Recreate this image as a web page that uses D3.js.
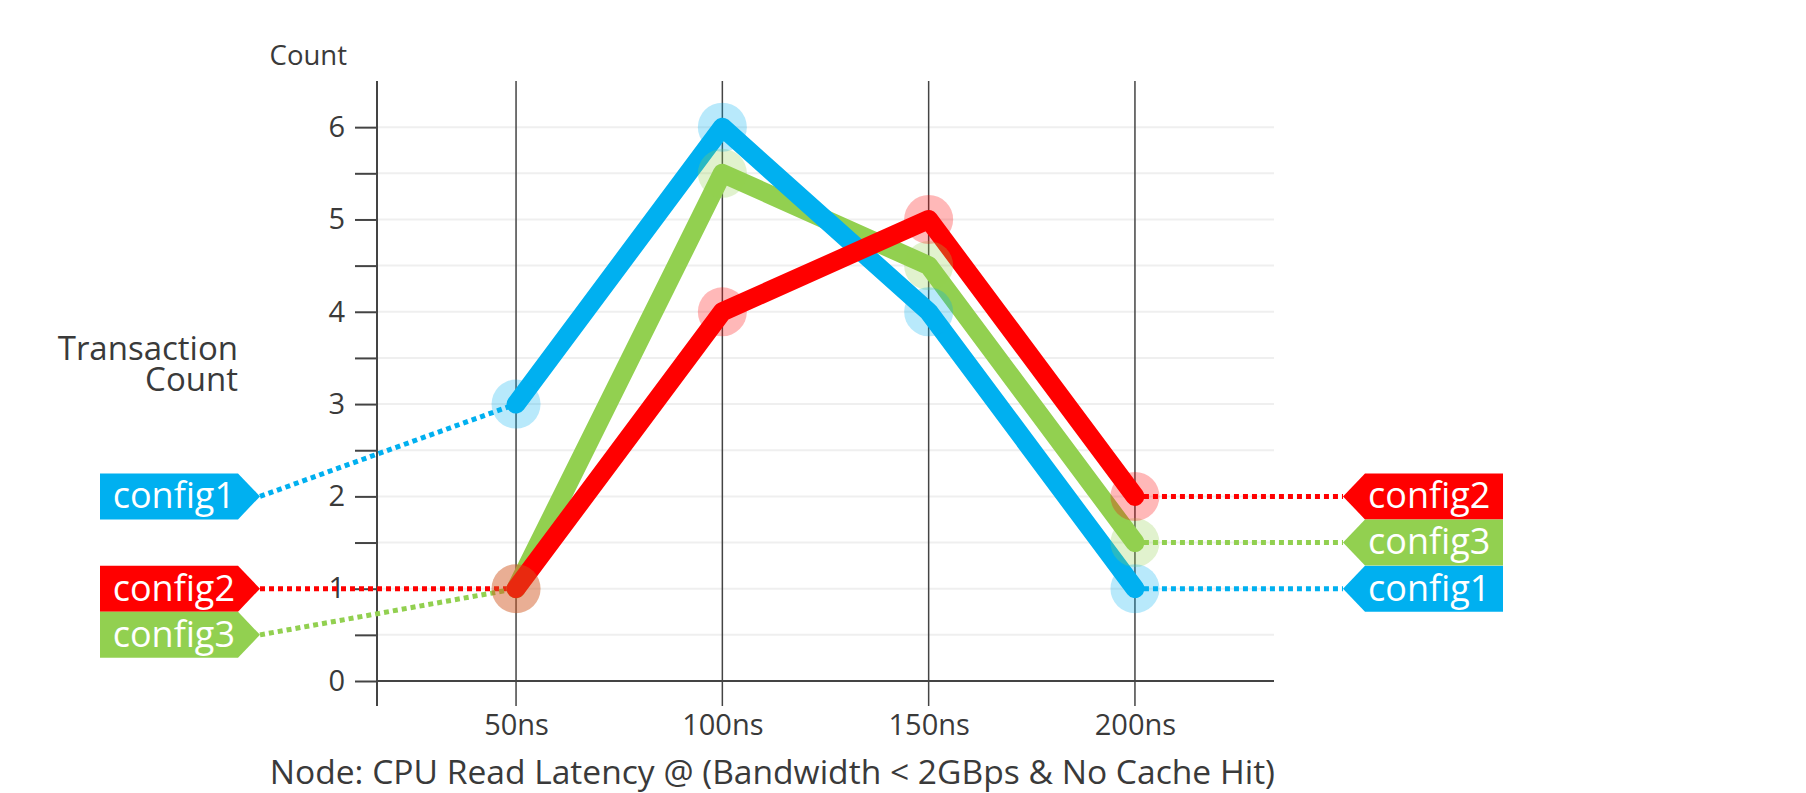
<!DOCTYPE html>
<html>
<head>
<meta charset="utf-8">
<script src="https://cdn.jsdelivr.net/npm/d3@7/dist/d3.min.js"></script>
<style>
  html, body { margin: 0; padding: 0; background: #fff; }
  svg { display: block; font-family: "Open Sans", "Noto Sans", sans-serif; }
</style>
</head>
<body>
<svg id="chart" width="1806" height="793"></svg>
<script>
// ---- data ----
const categories = ["50ns", "100ns", "150ns", "200ns"];
const seriesNames = ["config1", "config2", "config3"];
const config1 = [3, 6, 4, 1];
const config2 = [1, 4, 5, 2];
const config3 = [1, 5.5, 4.5, 1.5];
const seriesColors = ["#00B0F0", "#FF0000", "#92D050"];
const yTickValues = [0, 1, 2, 3, 4, 5, 6];
const yMinorTicks = [0, 0.5, 1, 1.5, 2, 2.5, 3, 3.5, 4, 4.5, 5, 5.5, 6];
const leftLabelValues = [2, 1, 0.5];   // label anchors (data units) on the left
const rightLabelValues = [1, 2, 1.5];  // label anchors (data units) on the right
const yAxisTitle = "Count";
const sideTitle = ["Transaction", "Count"];
const xAxisTitle = "Node: CPU Read Latency @ (Bandwidth < 2GBps & No Cache Hit)";

(function () {
const seriesValues = [config1, config2, config3];
const series = seriesNames.map((n, i) => ({ name: n, values: seriesValues[i], color: seriesColors[i],
  leftLabel: leftLabelValues[i], rightLabel: rightLabelValues[i] }));

// ---- layout ----
const svg = d3.select("#chart");
const mLeft = 377, mRight = 1274, mTop = 81, mBottom = 681;
const x = d3.scalePoint().domain(categories).range([mLeft, mRight]).padding(0.674);
const y = d3.scaleLinear().domain([0, 6.5]).range([mBottom, mTop]);
const textColor = "#3a3a3a";
const axisColor = "#444";

// gridlines
svg.append("g").selectAll("line").data(yMinorTicks.filter(d => d > 0)).join("line")
  .attr("x1", mLeft).attr("x2", mRight)
  .attr("y1", d => y(d)).attr("y2", d => y(d))
  .attr("stroke", "#efefef").attr("stroke-width", 2);

// vertical category lines
svg.append("g").selectAll("line").data(categories).join("line")
  .attr("x1", d => x(d)).attr("x2", d => x(d))
  .attr("y1", mTop).attr("y2", mBottom + 25)
  .attr("stroke", axisColor).attr("stroke-width", 1.5);

// y axis
const yAxis = d3.axisLeft(y).tickValues(yMinorTicks).tickSize(22).tickPadding(10)
  .tickFormat(d => yTickValues.includes(d) ? d3.format("d")(d) : "");
const gy = svg.append("g").attr("transform", `translate(${mLeft},0)`).call(yAxis);
gy.select(".domain").remove();
gy.selectAll(".tick line").attr("stroke", axisColor).attr("stroke-width", 2);
gy.selectAll(".tick text").attr("fill", textColor).style("font-size", "29px")
  .style("font-family", "'Open Sans', sans-serif");
svg.append("line").attr("x1", mLeft).attr("x2", mLeft).attr("y1", mTop).attr("y2", mBottom + 25)
  .attr("stroke", axisColor).attr("stroke-width", 2);

// x axis
const xAxis = d3.axisBottom(x).tickSize(25).tickPadding(8);
const gx = svg.append("g").attr("transform", `translate(0,${mBottom})`).call(xAxis);
gx.select(".domain").remove();
gx.selectAll(".tick line").remove();
gx.selectAll(".tick text").attr("fill", textColor).style("font-size", "29px")
  .style("font-family", "'Open Sans', sans-serif");
svg.append("line").attr("x1", mLeft).attr("x2", mRight).attr("y1", mBottom).attr("y2", mBottom)
  .attr("stroke", axisColor).attr("stroke-width", 2);

// titles
svg.append("text").attr("x", 347).attr("y", 65).attr("text-anchor", "end")
  .attr("fill", textColor).style("font-size", "27.5px").text(yAxisTitle);
svg.append("text").attr("text-anchor", "end").attr("fill", textColor).style("font-size", "33px")
  .selectAll("tspan").data(sideTitle).join("tspan")
  .attr("x", 238).attr("y", (d, i) => 360 + i * 31).text(d => d);
svg.append("text").attr("x", mRight + 1).attr("y", 784).attr("text-anchor", "end")
  .attr("fill", textColor).style("font-size", "33.6px").text(xAxisTitle);

// label geometry
const leftTip = 260, rightTip = 1343, arrow = 22, boxW = 138, boxH = 46;

// dotted connector lines
const conn = svg.append("g");
series.forEach(s => {
  conn.append("line")
    .attr("x1", leftTip).attr("y1", y(s.leftLabel))
    .attr("x2", x(categories[0])).attr("y2", y(s.values[0]))
    .attr("stroke", s.color).attr("stroke-width", 5).attr("stroke-dasharray", "5,4");
  conn.append("line")
    .attr("x1", x(categories[categories.length - 1])).attr("y1", y(s.values[s.values.length - 1]))
    .attr("x2", rightTip).attr("y2", y(s.rightLabel))
    .attr("stroke", s.color).attr("stroke-width", 5).attr("stroke-dasharray", "5,4");
});

// lines (draw order: config3, config1, config2)
const line = d3.line().x((d, i) => x(categories[i])).y(d => y(d));
const drawOrder = [2, 0, 1];
svg.append("g").selectAll("path").data(drawOrder.map(i => series[i])).join("path")
  .attr("d", d => line(d.values))
  .attr("fill", "none").attr("stroke", d => d.color).attr("stroke-width", 19)
  .attr("stroke-linejoin", "round").attr("stroke-linecap", "round");

// halos
drawOrder.forEach(i => {
  const s = series[i];
  svg.append("g").selectAll("circle").data(s.values).join("circle")
    .attr("cx", (d, j) => x(categories[j])).attr("cy", d => y(d)).attr("r", 24.5)
    .attr("fill", s.color).attr("fill-opacity", 0.28);
});

// labels
function leftShape(yc) {
  const x0 = leftTip - arrow - boxW;
  return `M${x0},${yc - boxH / 2}H${leftTip - arrow}L${leftTip},${yc}L${leftTip - arrow},${yc + boxH / 2}H${x0}Z`;
}
function rightShape(yc) {
  const x1 = rightTip + arrow + boxW;
  return `M${x1},${yc - boxH / 2}H${rightTip + arrow}L${rightTip},${yc}L${rightTip + arrow},${yc + boxH / 2}H${x1}Z`;
}
const labels = svg.append("g");
series.forEach(s => {
  const yl = y(s.leftLabel), yr = y(s.rightLabel);
  labels.append("path").attr("d", leftShape(yl)).attr("fill", s.color);
  labels.append("text").attr("x", leftTip - arrow - 3).attr("y", yl).attr("dy", "0.33em")
    .attr("text-anchor", "end").attr("fill", "#fff").style("font-size", "36px").text(s.name);
  labels.append("path").attr("d", rightShape(yr)).attr("fill", s.color);
  labels.append("text").attr("x", rightTip + arrow + 3).attr("y", yr).attr("dy", "0.33em")
    .attr("text-anchor", "start").attr("fill", "#fff").style("font-size", "36px").text(s.name);
});
})();
</script>
</body>
</html>
